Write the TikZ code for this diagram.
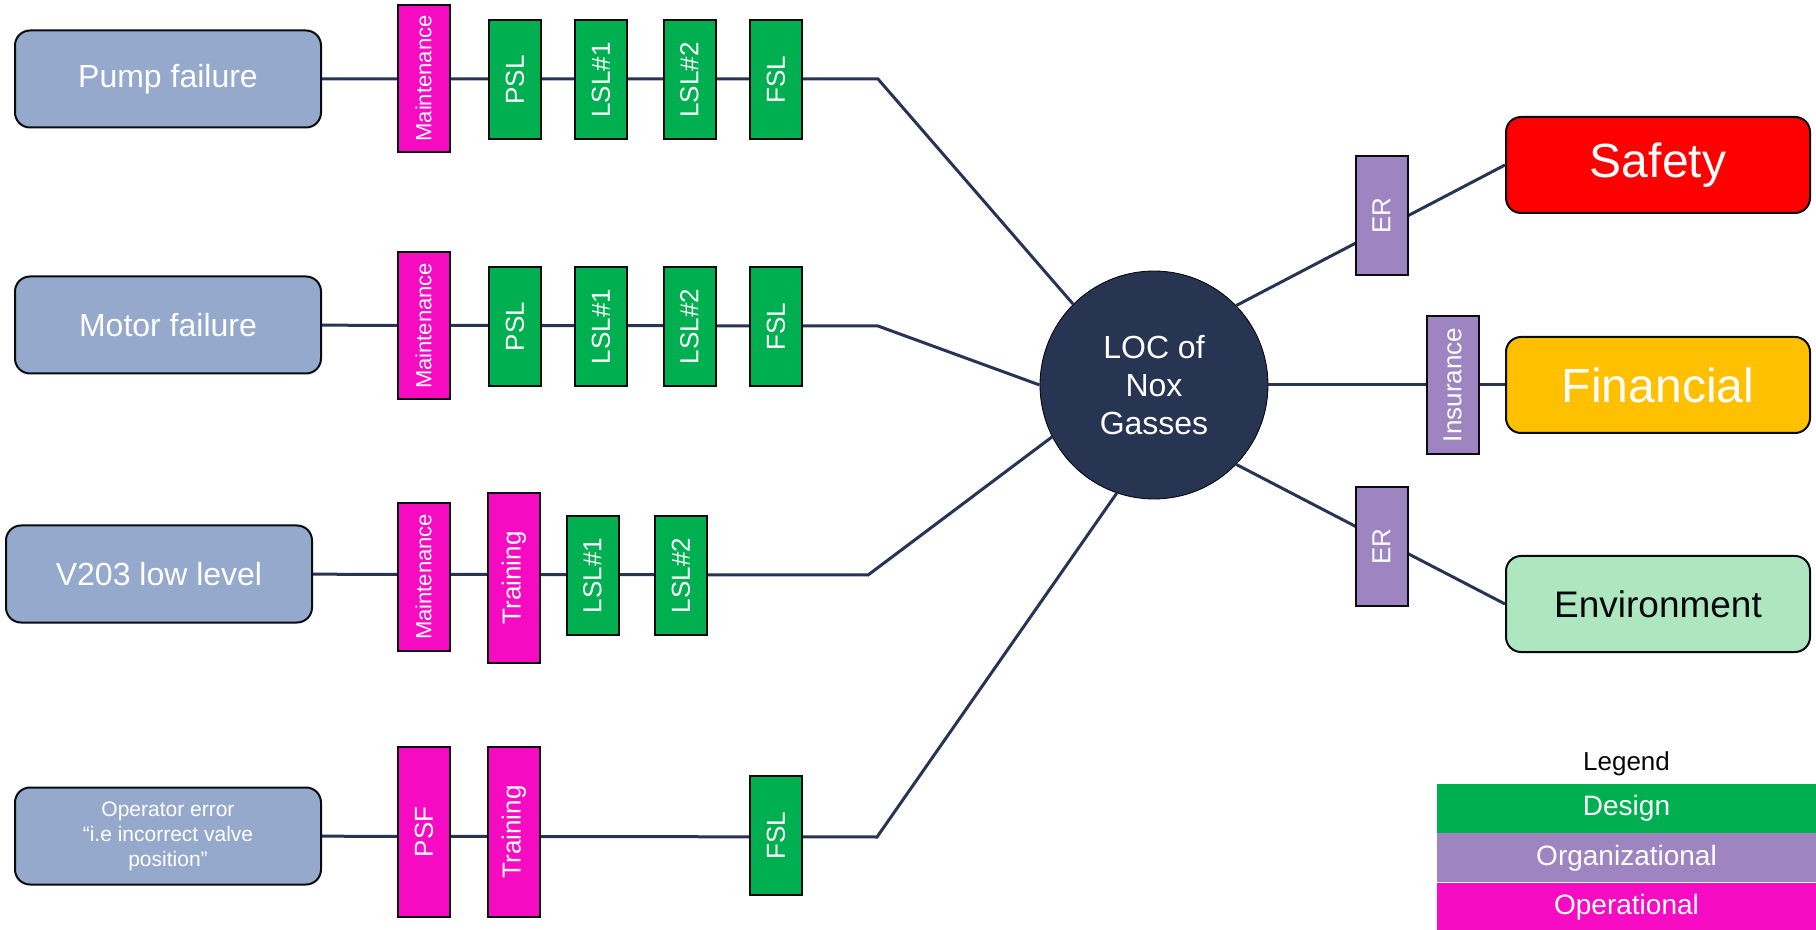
\documentclass[tikz,border=0pt]{standalone}
\usepackage{fontspec}
\setmainfont{Liberation Sans}
\usepackage{tikz}
\usetikzlibrary{positioning}

\definecolor{causeblue}{HTML}{95A9CC}
\definecolor{opmag}{HTML}{F60BC3}
\definecolor{desgreen}{HTML}{00AF50}
\definecolor{orgpurple}{HTML}{9E84C0}
\definecolor{navy}{HTML}{283552}
\definecolor{envgreen}{HTML}{AEE6BF}
\definecolor{finyellow}{HTML}{FFC000}

\begin{document}
\begin{tikzpicture}[x=0.5pt, y=-0.5pt,
    cause/.style={draw=black!80!navy, line width=1pt, rounded corners=7.5pt, fill=causeblue, text=white, minimum width=153pt, minimum height=48.5pt, inner sep=0pt, align=center, font=\fontsize{16}{19}\selectfont},
    conseq/.style={cause, minimum width=152pt, minimum height=48pt, font=\fontsize{24}{28}\selectfont},
    barrier/.style={draw=black!80!navy, line width=1pt, rotate=90, text=white, inner sep=0pt, minimum height=26pt, font=\fontsize{13}{15}\selectfont},
    design/.style={barrier, fill=desgreen, minimum width=59.5pt},
    maint/.style={barrier, fill=opmag, minimum width=73.5pt, font=\fontsize{11}{13}\selectfont},
    train/.style={barrier, fill=opmag, minimum width=85pt},
    org/.style={barrier, fill=orgpurple, minimum width=59.5pt},
    link/.style={draw=navy, line width=1.5pt},
    key/.style={minimum width=189.5pt, minimum height=24.5pt, inner sep=0pt, text=white, font=\fontsize{14}{16}\selectfont}]
    \useasboundingbox (0,0) rectangle (1816,930);

    % causes
    \node[cause] (pump) at (168,79) {Pump failure};
    \node[cause] (motor) at (168,325) {Motor failure};
    \node[cause] (v203) at (159,574) {V203 low level};
    \node[cause, font=\fontsize{10.5}{12.5}\selectfont] (operr) at (168,836) {Operator error\\“i.e incorrect valve\\position”};

    % top event
    \node[circle, draw=black, fill=navy, text=white, minimum size=114pt, inner sep=0pt, align=center, font=\fontsize{16}{19}\selectfont] (loc) at (1154,385) {LOC of\\Nox\\Gasses};

    % consequences
    \node[conseq, fill=red] (safety) at (1658,165) {Safety};
    \node[conseq, fill=finyellow] (fin) at (1658,385) {Financial};
    \node[conseq, fill=envgreen, text=black!85!navy, font=\fontsize{18.5}{22}\selectfont] (env) at (1658,604) {Environment};

    % connectors (barriers are put on top)
    \coordinate (k1) at (878,79);
    \coordinate (k2) at (878,326);
    \coordinate (k3) at (868,575);
    \coordinate (k4) at (877,837);
    \draw[link] (pump) -- (k1) -- (loc.135);
    \draw[link] (motor) -- (k2) -- (loc.180);
    \draw[link] (v203) -- (k3) -- (loc.207);
    \draw[link] (operr) -- (k4) -- (loc.251);
    \draw[link] (loc.44) -- (safety.west);
    \draw[link] (loc.east) -- (fin.west);
    \draw[link] (loc.-44) -- (env.west);

    % barriers, row 1
    \node[maint] (m1) at (423.5,78.5) {Maintenance};
    \node[design] (psl1) at (515,80) {PSL};
    \node[design] (lslA1) at (601,80) {LSL\#1};
    \node[design] (lslA2) at (689.5,80) {LSL\#2};
    \node[design] (fsl1) at (776,80) {FSL};

    % row 2
    \node[maint] (m2) at (423.5,326) {Maintenance};
    \node[design] (psl2) at (515,326.5) {PSL};
    \node[design] (lslB1) at (601,326.5) {LSL\#1};
    \node[design] (lslB2) at (689.5,326.5) {LSL\#2};
    \node[design] (fsl2) at (776,326.5) {FSL};

    % row 3
    \node[maint] (m3) at (423.5,577) {Maintenance};
    \node[train] (t3) at (514,578) {Training};
    \node[design] (lslC1) at (592.5,575.5) {LSL\#1};
    \node[design] (lslC2) at (681,575.5) {LSL\#2};

    % row 4
    \node[train] (psf) at (424,832) {PSF};
    \node[train] (t4) at (514,832) {Training};
    \node[design] (fsl4) at (776,835.5) {FSL};

    % mitigation
    \node[org] (er1) at (1381.5,215.5) {ER};
    \node[org, minimum width=69pt] (ins) at (1452.5,385) {Insurance};
    \node[org] (er2) at (1381.5,546.5) {ER};

    % legend
    \node[key, fill=desgreen] (kdes) at (1626.5,808) {Design};
    \node[key, fill=orgpurple, below=0pt of kdes] (korg) {Organizational};
    \node[key, fill=opmag, below=0pt of korg] (kop) {Operational};
    \node[above=0pt of kdes, text=black!85!navy, font=\fontsize{13}{15}\selectfont] (leg) {Legend};
\end{tikzpicture}
\end{document}
